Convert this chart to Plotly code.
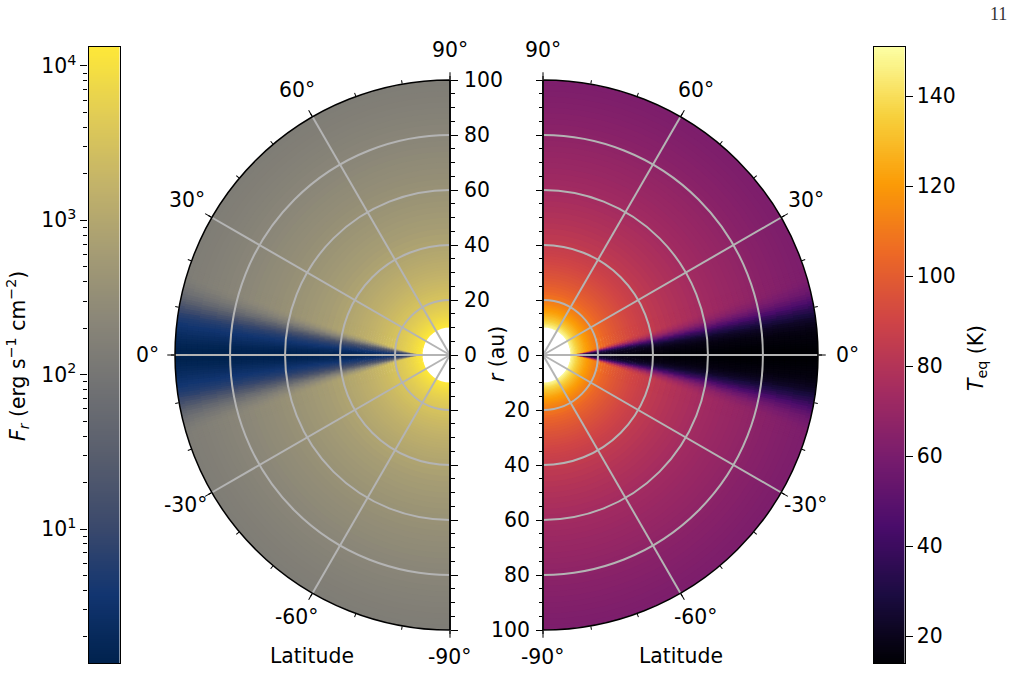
import numpy as np
import plotly.graph_objects as go

# Radial rows (au): inner edge of every ring
ring_inner = [10,10.5,11,11.5,12,12.5,13,13.5,14,14.5,15,15.5,16,16.5,17,17.5,18,18.5,19,19.5,
              20,21,22,23,24,25,26,27,28,29,30,31,32,33,34,35,36,37,38,39,
              40,42,44,46,48,50,52,54,56,58,60,62,64,66,68,70,72,74,76,78,80,82,84,86,88,90,92,94,96,98]
ring_outer = ring_inner[1:] + [100]
# Flux and temperature of the lit disc, read ring by ring
lit_flux = [13330,12110,11060,10140,9330,8610,7970,7400,6890,6430,6020,5640,5300,4990,4700,4440,4200,3980,3780,3590,
            3330,3030,2770,2540,2330,2150,1990,1850,1720,1610,1500,1410,1330,1250,1180,1110,1050,996,944,897,
            830,760,690,630,580,540,500,460,430,400,376,353,331,312,294,278,263,249,236,224,
            213,203,194,185,177,169,162,155,149,143]
lit_temp = [148,145,142,139,136.5,134,131.5,129.5,127.5,125.5,123.5,122,120.5,119,117.5,116,114.5,113.2,112,110.8,
            109,107,105,103,101.5,100,98.7,97.5,96.3,95.2,94,93,92,91,90,89.2,88.3,87.5,86.7,86,
            84.5,83,82,80.5,79.5,78.5,77.5,76.5,75.5,74.5,73.5,72.8,72,71.3,70.6,70,69.3,68.7,68.1,67.5,
            66,65.4,64.8,64.2,63.7,63.1,62.6,62.1,61.7,61.2]
# Latitude of the soft shadow edge, read ring by ring (deg)
shadow_edge = [0.2,.4,.8,1.1,1.4,1.8,2.1,2.5,2.8,3.2,3.5,3.8,4.1,4.4,4.7,5,5.2,5.5,5.7,6,
               6.3,6.7,7.1,7.5,7.8,8.1,8.4,8.6,8.8,9,9.2,9.4,9.5,9.7,9.8,9.9,10,10.1,10.2,10.3,
               10.5,10.7,10.9,11.1,11.3,11.4,11.6,11.7,11.8,12,12.1,12.2,12.4,12.5,12.6,12.7,12.8,12.8,12.9,13,
               13.1,13.1,13.2,13.3,13.3,13.4,13.5,13.5,13.6,13.7]
# Darkest value on the midplane, read ring by ring
flux_floor_log = [.9,.87,.84,.81,.78,.75,.72,.7,.67,.65,.62,.6,.58,.56,.54,.52,.5,.48,.46,.45,
                  .44,.42,.4,.38,.37,.35,.34,.33,.32,.31,.3,.29,.28,.27,.26,.25,.24,.24,.23,.23,
                  .22,.21,.2,.2,.19,.19,.18,.18,.17,.17,.16,.16,.16,.16,.16,.16,.16,.16,.15,.15,
                  .15,.15,.15,.15,.15,.15,.15,.15,.15,.15]
temp_floor = [34,33,32,31,30,29.5,29,28,27.5,27,26.5,26,25.5,25,24.5,24,23.5,23,22.5,22,
              21.5,21,20.5,20,19.5,19,18.5,18,17.7,17.4,17.2,17,16.8,16.6,16.4,16.2,16,15.8,15.6,15.4,
              15.2,15.1,15,14.9,14.8,14.7,14.6,14.5,14.4,14.3,14.2,14.2,14.1,14.1,14.1,14,14,14,14,14,
              14,14,14,14,14,14,14,14,14,14]
# Share of lit value across the shadow, in steps of 1/40 of the edge latitude
flux_share = [0,0,0,.01,.02,.03,.04,.055,.07,.085,.1,.115,.13,.145,.16,.175,.19,.205,.22,.24,.26,.28,.3,.325,.35,
              .385,.42,.46,.5,.54,.58,.62,.66,.7,.74,.77,.8,.83,.86,.88,.9,.92,.94,.955,.97,.98,.99,.995,1]
temp_share = [0,0,0,.005,.01,.015,.02,.025,.03,.035,.04,.045,.05,.06,.07,.085,.1,.115,.13,.15,.17,.205,.24,.275,.31,
              .35,.39,.435,.48,.53,.58,.625,.67,.71,.75,.785,.82,.85,.88,.9,.92,.935,.95,.965,.98,.985,.99,.995,1]

flux_range_log = [0.132, 4.123]
temp_range = [14, 150.9]
flux_ticks = [10, 100, 1000, 10000]
flux_ticktext = ["10<sup>1</sup>", "10<sup>2</sup>", "10<sup>3</sup>", "10<sup>4</sup>"]
flux_minor = [m * d for d in (1, 10, 100, 1000) for m in range(2, 10)] + [10000 * m for m in (2, 3)]
temp_ticks = [20, 40, 60, 80, 100, 120, 140]
radial_major = [0, 20, 40, 60, 80, 100]
radial_minor = list(range(0, 101, 5))
lat_major = [-90, -60, -30, 0, 30, 60, 90]
lat_minor = list(range(-90, 91, 10))
lat_labels = ["-90°", "-60°", "-30°", "0°", "30°", "60°", "90°"]
rings_grid = [20, 40, 60, 80]

W, H = 1013, 685
FONT = "DejaVu Sans"
FS = 20.4
GRID = "#b4b4b4"


def px(x):
    return x / W


def py(y):
    return 1 - y / H


band = np.arange(17.75, 0, -0.5)   # outermost first, so inner cells overlap them
r_all, base_all, lat_all, wd_all, f_all, t_all = [], [], [], [], [], []
for i, (ri, ro) in enumerate(zip(ring_inner, ring_outer)):
    lit_log = np.log10(lit_flux[i])
    top = min(ro + 0.4, 100)
    for c in (53.75, -53.75):
        r_all.append(top - ri); base_all.append(ri); lat_all.append(c); wd_all.append(72.5)
        f_all.append(lit_log)
        t_all.append(lit_temp[i])
    for lat in band:
        idx = min(int(round(lat / shadow_edge[i] * 40)), 48)
        val_f = flux_floor_log[i] + flux_share[idx] * (lit_log - flux_floor_log[i])
        val_t = temp_floor[i] + temp_share[idx] * (lit_temp[i] - temp_floor[i])
        for sign in (1, -1):
            r_all.append(top - ri); base_all.append(ri)
            lat_all.append(sign * (lat + 0.2)); wd_all.append(0.9)
            f_all.append(val_f); t_all.append(val_t)

lat_arr = np.array(lat_all)
fig = go.Figure()
for sub, theta, vals, scale, rng in (("polar", 180 - lat_arr, f_all, "cividis", flux_range_log),
                                     ("polar3", lat_arr, t_all, "inferno", temp_range)):
    fig.add_trace(go.Barpolar(r=r_all, base=base_all, theta=theta, width=wd_all, subplot=sub, hoverinfo="skip",
                              marker=dict(color=vals, colorscale=scale, cmin=rng[0], cmax=rng[1], line=dict(width=0)),
                              showlegend=False))
for sub in ("polar2", "polar4"):
    fig.add_trace(go.Scatterpolar(r=[None], theta=[None], subplot=sub, showlegend=False, hoverinfo="skip"))

dom_l = ([px(175), px(450)], [py(630), py(80)])
dom_r = ([px(543), px(818)], [py(630), py(80)])
for name_main, name_over, dom, sector, flip in (
    ("polar", "polar2", dom_l, [90, 270], True),
    ("polar3", "polar4", dom_r, [-90, 90], False),
):
    conv = (lambda v: 180 - v) if flip else (lambda v: v)
    fig.update_layout({
        name_main: dict(domain=dict(x=dom[0], y=dom[1]), sector=sector, bgcolor="rgba(0,0,0,0)", barmode="overlay",
                        radialaxis=dict(range=[0, 100], visible=False),
                        angularaxis=dict(direction="counterclockwise", rotation=0, tickmode="array",
                                         tickvals=[conv(v) for v in lat_minor], showticklabels=False,
                                         ticks="outside", ticklen=3.5, tickwidth=1.1,
                                         tickcolor="black", showgrid=False, showline=False)),
        name_over: dict(domain=dict(x=dom[0], y=dom[1]), sector=sector, bgcolor="rgba(0,0,0,0)",
                        radialaxis=dict(range=[0, 100], tickmode="array", tickvals=rings_grid, showticklabels=False,
                                        ticks="", showline=False, showgrid=True, gridcolor=GRID, gridwidth=1.5),
                        angularaxis=dict(direction="counterclockwise", rotation=0, tickmode="array",
                                         tickvals=[conv(v) for v in lat_major], showticklabels=False,
                                         ticks="outside", ticklen=7, tickwidth=1.3,
                                         tickcolor="black", showgrid=True, gridcolor=GRID, gridwidth=1.5,
                                         showline=True, linecolor="black", linewidth=1.5)),
    })

# Straight radial axes: each half of a panel's vertical edge is its own axis
for ax, pos, y_top, y_bot, rng, side, labelled in (
    ("2", 450, 80, 355, [0, 100], "right", True),
    ("6", 450, 355, 630, [-100, 0], "right", False),
    ("3", 543, 355, 630, [100, 0], "left", True),
    ("7", 543, 80, 355, [-100, 0], "left", False),
):
    vals = radial_major if labelled else [-v for v in radial_major]
    minor_vals = radial_minor if labelled else [-v for v in radial_minor]
    fig.add_trace(go.Scatter(x=[None], y=[None], xaxis="x" + ax, yaxis="y" + ax, showlegend=False, hoverinfo="skip"))
    fig.update_layout({
        "xaxis" + ax: dict(domain=[px(pos), px(pos + 1)], visible=False, range=[0, 1]),
        "yaxis" + ax: dict(domain=[py(y_bot), py(y_top)], range=rng if labelled else sorted(rng),
                           anchor="free", position=px(pos), side=side,
                           tickmode="array", tickvals=vals, ticktext=[str(abs(v)) for v in vals],
                           showticklabels=labelled, ticklabelstandoff=2,
                           ticks="outside", ticklen=7, tickwidth=1.3, tickcolor="black", showgrid=False, zeroline=False,
                           showline=False,
                           minor=dict(tickmode="array", tickvals=minor_vals, ticks="outside", ticklen=4,
                                      tickwidth=1.1, tickcolor="black", showgrid=False),
                           tickfont=dict(family=FONT, size=FS, color="black")),
    })
for pos in (450, 543):
    fig.add_shape(type="line", xref="paper", yref="paper", x0=px(pos), x1=px(pos), y0=py(630), y1=py(80),
                  line=dict(color="black", width=1.4), layer="above")

# Colour bars
flux_levels = 10 ** np.linspace(flux_range_log[0], flux_range_log[1], 300)
temp_levels = np.linspace(temp_range[0], temp_range[1], 300)
fig.add_trace(go.Heatmap(x=[0, 1], y=flux_levels, z=[[np.log10(v)] * 2 for v in flux_levels], xaxis="x4", yaxis="y4",
                         colorscale="cividis", zmin=flux_range_log[0], zmax=flux_range_log[1], showscale=False,
                         hoverinfo="skip"))
fig.add_trace(go.Heatmap(x=[0, 1], y=temp_levels, z=[[v] * 2 for v in temp_levels], xaxis="x5", yaxis="y5",
                         colorscale="inferno", zmin=temp_range[0], zmax=temp_range[1], showscale=False,
                         hoverinfo="skip"))
frame = dict(showgrid=False, zeroline=False, showline=True, mirror=True, linecolor="black", linewidth=1.3)
fig.update_layout(
    xaxis4=dict(domain=[px(88.5), px(119.5)], range=[0, 1], showticklabels=False, ticks="", anchor="y4", **frame),
    yaxis4=dict(domain=[py(663), py(47)], type="log", range=flux_range_log, anchor="x4", side="left", tickmode="array",
                tickvals=flux_ticks, ticktext=flux_ticktext, ticks="outside", ticklen=7, tickwidth=1.3,
                tickcolor="black", tickfont=dict(family=FONT, size=FS, color="black"),
                minor=dict(tickmode="array", tickvals=flux_minor, ticks="outside", ticklen=4, tickwidth=1.1,
                           tickcolor="black", showgrid=False), **frame),
    xaxis5=dict(domain=[px(873.5), px(904.5)], range=[0, 1], showticklabels=False, ticks="", anchor="y5", **frame),
    yaxis5=dict(domain=[py(663), py(47)], range=temp_range, anchor="x5", side="right", tickmode="array",
                tickvals=temp_ticks, ticks="outside", ticklen=7, tickwidth=1.3, tickcolor="black",
                tickfont=dict(family=FONT, size=FS, color="black"), **frame),
)


def note(x, y, text, angle=0, size=FS, family=FONT, color="black"):
    fig.add_annotation(x=px(x), y=py(y), xref="paper", yref="paper", text=text, showarrow=False, textangle=angle,
                       xanchor="center", yanchor="middle", font=dict(family=family, size=size, color=color))


# Latitude labels, placed as in the reference
left_label_xy = [(450, 657), (297, 617), (186, 505), (147, 355), (187, 200), (297, 90), (450, 50)]
right_label_xy = [(543, 657), (696, 617), (806, 505), (847, 355), (806, 200), (696, 90), (543, 50)]
for text, xy_l, xy_r in zip(lat_labels, left_label_xy, right_label_xy):
    note(xy_l[0], xy_l[1], text)
    note(xy_r[0], xy_r[1], text)

note(312, 656, "Latitude")
note(681, 656, "Latitude")
note(497, 354, "<i>r</i> (au)", -90)
note(17, 356, "<i>F<sub>r</sub></i> (erg s<sup>−1</sup> cm<sup>−2</sup>)", -90)
note(977, 358, "<i>T</i><sub>eq</sub> (K)", -90)
note(998, 14, "11", 0, 18, "Liberation Serif", "#333333")

fig.update_layout(width=W, height=H, margin=dict(l=0, r=0, t=0, b=0, autoexpand=False), paper_bgcolor="white",
                  plot_bgcolor="white", showlegend=False)
fig.write_html("out.html", config={"displayModeBar": False},
               post_script="document.body.style.margin='0';document.documentElement.style.overflow='hidden';")
